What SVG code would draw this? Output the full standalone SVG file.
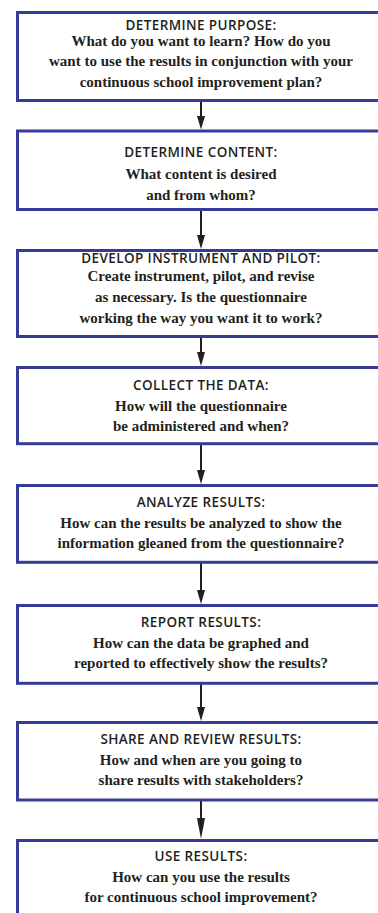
<svg xmlns="http://www.w3.org/2000/svg" width="378" height="913" viewBox="0 0 378 913">
<defs>
<style>
.box{fill:#ffffff;stroke:#363b98;stroke-width:3}
.t{font-family:"Open Sans","Liberation Sans",sans-serif;font-weight:600;font-size:13.5px;letter-spacing:0.4px;fill:#231f20;text-anchor:middle}
.b{font-family:"Liberation Serif","Times New Roman",serif;font-weight:bold;font-size:15px;fill:#231f20;text-anchor:middle}
.c{stroke:#231f20;stroke-width:2;fill:none}
.h{fill:#231f20}
</style>
</defs>
<rect width="378" height="913" fill="#ffffff"/>
<g id="connectors">
<path class="c" d="M201,101.5 V120"/><path class="h" d="M197,116 L205,116 L201,129.5 Z"/>
<path class="c" d="M201,209.5 V238"/><path class="h" d="M197,235 L205,235 L201,249 Z"/>
<path class="c" d="M201,336.5 V355"/><path class="h" d="M197,352 L205,352 L201,366 Z"/>
<path class="c" d="M201,443.7 V473"/><path class="h" d="M197,470 L205,470 L201,484 Z"/>
<path class="c" d="M201,562.3 V593"/><path class="h" d="M197,590 L205,590 L201,604 Z"/>
<path class="c" d="M201,683.3 V710"/><path class="h" d="M197,707 L205,707 L201,721 Z"/>
<path class="c" d="M201,800 V822"/><path class="h" d="M197,818 L205,818 L201,839 Z"/>
</g>
<g id="n1">
<rect class="box" x="17.5" y="12.5" width="400" height="88"/>
<text class="t" x="201" y="29.5">DETERMINE PURPOSE:</text>
<text class="b" x="201" y="45.5">What do you want to learn? How do you</text>
<text class="b" x="201" y="66">want to use the results in conjunction with your</text>
<text class="b" x="201" y="87">continuous  school improvement plan?</text>
</g>
<g id="n2">
<rect class="box" x="17.5" y="131" width="400" height="78.5"/>
<text class="t" x="201" y="156.5">DETERMINE CONTENT:</text>
<text class="b" x="201" y="179">What content is desired</text>
<text class="b" x="201" y="200">and from whom?</text>
</g>
<g id="n3">
<rect class="box" x="17.5" y="250.5" width="400" height="86"/>
<text class="t" x="201" y="262.5">DEVELOP INSTRUMENT AND PILOT:</text>
<text class="b" x="201" y="281">Create instrument, pilot, and revise</text>
<text class="b" x="201" y="301.5">as necessary. Is the questionnaire</text>
<text class="b" x="201" y="322.5">working the way you want it to work?</text>
</g>
<g id="n4">
<rect class="box" x="17.5" y="367.5" width="400" height="76.2"/>
<text class="t" x="201" y="390">COLLECT THE DATA:</text>
<text class="b" x="201" y="411">How will the questionnaire</text>
<text class="b" x="201" y="431">be administered and when?</text>
</g>
<g id="n5">
<rect class="box" x="17.5" y="485.5" width="400" height="76.8"/>
<text class="t" x="201" y="506.5">ANALYZE RESULTS:</text>
<text class="b" x="201" y="528">How can the results be analyzed to show the</text>
<text class="b" x="201" y="548">information gleaned from the questionnaire?</text>
</g>
<g id="n6">
<rect class="box" x="17.5" y="605.5" width="400" height="77.8"/>
<text class="t" x="201" y="626.5">REPORT RESULTS:</text>
<text class="b" x="201" y="648">How can the data be graphed and</text>
<text class="b" x="201" y="668">reported to effectively show the results?</text>
</g>
<g id="n7">
<rect class="box" x="17.5" y="722.5" width="400" height="77.5"/>
<text class="t" x="201" y="743.5">SHARE AND REVIEW RESULTS:</text>
<text class="b" x="201" y="765">How and when are you going to</text>
<text class="b" x="201" y="784.5">share results with stakeholders?</text>
</g>
<g id="n8">
<rect class="box" x="17.5" y="840.5" width="400" height="90"/>
<text class="t" x="201" y="860.5">USE RESULTS:</text>
<text class="b" x="201" y="882">How can you use the results</text>
<text class="b" x="201" y="901.5">for continuous school improvement?</text>
</g>
</svg>
